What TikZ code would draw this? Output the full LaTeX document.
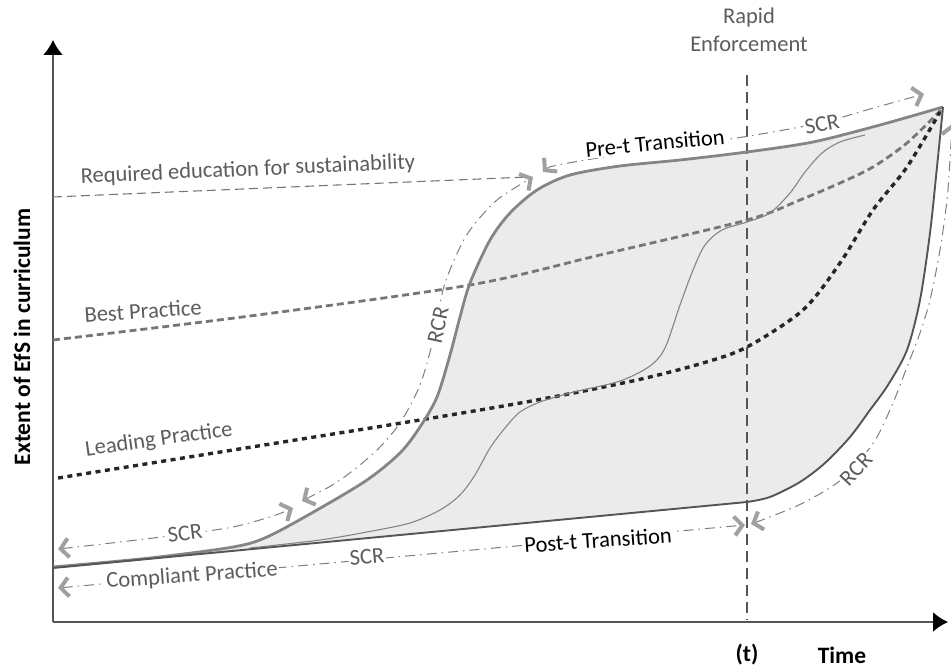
\documentclass[tikz,border=0pt]{standalone}
\usepackage{fontspec}
\setmainfont{Carlito}
\usetikzlibrary{arrows.meta}
\definecolor{txtgray}{HTML}{5C5C5C}
\definecolor{areagray}{HTML}{EBEBEB}
\definecolor{upgray}{HTML}{858585}
\definecolor{lowgray}{HTML}{555555}
\definecolor{ddgray}{HTML}{7E7E7E}
\definecolor{chevgray}{HTML}{A0A0A0}
\definecolor{bestgray}{HTML}{767676}
\definecolor{axisgray}{HTML}{555555}
\tikzset{
  Chev/.tip={Straight Barb[length=8pt,width=19pt,line width=4pt,color=chevgray]},
  graylbl/.style={font=\fontsize{22.5}{26}\selectfont, text=txtgray, inner sep=1pt},
  blacklbl/.style={font=\fontsize{22.5}{26}\selectfont, text=black, inner sep=1pt},
  boldlbl/.style={font=\fontsize{23.5}{27}\selectfont\bfseries, text=black, inner sep=1pt},
  onlinelbl/.style={fill=white, inner sep=1.5pt},
  crline/.style={draw=ddgray, line width=1pt, dash pattern=on 10pt off 5pt on 1.5pt off 5pt, Chev-Chev},
  axisline/.style={draw=axisgray, line width=1.8pt, -{Latex[length=15pt,width=20pt,color=black]}},
  upperline/.style={draw=upgray, line width=2.8pt, line join=round},
  lowerline/.style={draw=lowgray, line width=1.9pt, line join=round},
  innerline/.style={draw=upgray, line width=1.1pt},
  bestline/.style={draw=bestgray, line width=2.8pt, dash pattern=on 7pt off 4pt},
  leadline/.style={draw=black!85, line width=3.4pt, dash pattern=on 5pt off 4.5pt},
  reqline/.style={draw=bestgray, line width=1.1pt, dash pattern=on 9pt off 5pt},
  tline/.style={draw=axisgray, line width=1.5pt, dash pattern=on 11pt off 6pt}
}
\begin{document}
\begin{tikzpicture}[x=1pt,y=-1pt]
\useasboundingbox (0,0) rectangle (951,668);
% region
\fill[areagray] plot[smooth] coordinates {(53,567) (150,558) (233,547) (267,537) (317,510) (367,480) (400,453) (420,427) (437,397) (450,355) (460,317) (470,283) (490,240) (510,213) (537,190) (570,175) (620,166) (680,160) (747,152) (813,142) (880,125) (943,107)}
 -- plot[smooth] coordinates {(943,107) (937,167) (930,233) (920,300) (907,350) (888,385) (870,410) (850,437) (825,463) (800,482) (770,497) (747,502)} -- (53,568) -- cycle;
% axes
\coordinate (O) at (53,622);
\coordinate (xend) at (948,622);
\coordinate (yend) at (53,40);
\draw[axisline] (O) -- (xend);
\draw[axisline] (O) -- (yend);
% vertical t line
\coordinate (ttop) at (747,75);
\coordinate (tbot) at (747,620);
\draw[tline] (ttop) -- (tbot);
% required line
\coordinate (req0) at (53,197);
\coordinate (req1) at (527,177);
\draw[reqline] (req0) -- (req1);
% best practice
\draw[bestline] plot[smooth] coordinates {(53,340) (250,316) (470,285) (600,255) (747,220) (800,200) (840,183) (873,167) (907,143) (941,110)};
% leading practice
\draw[leadline] plot[smooth] coordinates {(58,478) (233,450) (420,420) (537,400) (637,380) (703,363) (747,347) (803,310) (840,263) (873,210) (907,167) (940,112)};
% inner curve
\draw[innerline] plot[smooth] coordinates {(250,548) (320,540) (367,532) (410,523) (440,510) (460,495) (475,475) (490,448) (505,428) (520,412) (540,402) (570,393) (620,381) (650,366) (665,348) (680,305) (693,270) (705,245) (722,230) (747,222) (770,213) (790,193) (805,172) (822,153) (840,142) (865,135)};
% dash-dot lines
\draw[crline] plot[smooth] coordinates {(58,549) (120,542) (185,534) (233,527) (273,516) (293,508)};
\draw[crline] plot[smooth] coordinates {(302,501) (340,480) (375,452) (400,423) (420,385) (433,340) (443,290) (455,258) (470,230) (497,200) (533,177)};
\draw[crline] plot[smooth] coordinates {(543,172) (563,164) (650,150) (743,137) (820,123) (870,109) (924,94)};
\coordinate (d0) at (58,588);
\coordinate (d1) at (745,525);
\draw[crline] (d0) -- (d1);
\draw[crline] plot[smooth] coordinates {(751,524) (770,517) (803,503) (837,483) (860,460) (877,437) (893,403) (907,367) (920,333) (930,300) (940,250) (947,200) (950,160) (952,124)};
% boundaries
\draw[upperline] plot[smooth] coordinates {(53,567) (150,558) (233,547) (267,537) (317,510) (367,480) (400,453) (420,427) (437,397) (450,355) (460,317) (470,283) (490,240) (510,213) (537,190) (570,175) (620,166) (680,160) (747,152) (813,142) (880,125) (943,107)};
\draw[lowerline] plot[smooth] coordinates {(943,107) (937,167) (930,233) (920,300) (907,350) (888,385) (870,410) (850,437) (825,463) (800,482) (770,497) (747,502)} -- (53,568);
% labels on lines
\node[graylbl, onlinelbl, rotate=7] (scrA) at (185,533) {SCR};
\node[graylbl, onlinelbl, rotate=78] (rcrB) at (438,325) {RCR};
\node[graylbl, onlinelbl, rotate=11] (scrC) at (822,124) {SCR};
\node[graylbl, onlinelbl, rotate=5] (scrD) at (367,557) {SCR};
\node[graylbl, onlinelbl, rotate=47] (rcrE) at (856,469) {RCR};
\node[blacklbl, onlinelbl, rotate=5.5] (pre) at (655,143) {Pre-t Transition};
\node[blacklbl, onlinelbl, rotate=4] (post) at (598,540) {Post-t Transition};
\node[graylbl, onlinelbl, rotate=4] (comp) at (192,576) {Compliant Practice};
% other labels
\node[graylbl, rotate=2.5] (req) at (248,170) {Required education for sustainability};
\node[graylbl, rotate=4] (best) at (143,311) {Best Practice};
\node[graylbl, rotate=8] (lead) at (159,440) {Leading Practice};
\node[graylbl] (rapid) at (749,18) {Rapid};
\node[graylbl] (enf) at (749,44) {Enforcement};
\node[boldlbl] (tlbl) at (747,655) {(t)};
\node[boldlbl] (time) at (842,655) {Time};
\node[boldlbl, rotate=90] (ylbl) at (22,337) {Extent of EfS in curriculum};
\end{tikzpicture}
\end{document}
